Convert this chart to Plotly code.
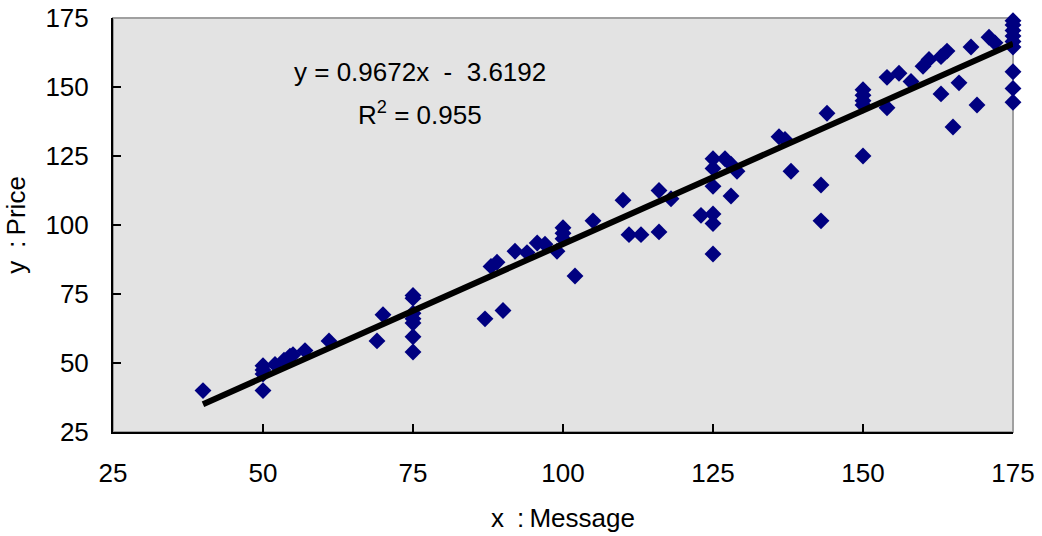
import plotly.graph_objects as go

# Data
message = [40,
           50, 50, 50, 50,
           52, 53.5, 54.5, 55, 57, 61,
           69, 70,
           75, 75, 75, 75, 75, 75, 75,
           87, 88, 89, 90, 92, 94, 95.7, 97, 99, 100, 100, 100, 102, 105, 110, 111, 113, 116, 116, 118,
           123, 125, 125, 125, 125, 125, 125, 127, 128, 128, 129,
           136, 137, 138, 143, 143, 144,
           150, 150, 150, 150, 150, 154, 154, 156, 158, 160, 161, 163, 163, 164, 165, 166, 168, 169, 171, 172,
           175, 175, 175, 175, 175, 175, 175, 175, 175]
price = [40,
         40, 46, 47.5, 49,
         49.5, 51, 52.5, 53, 54.5, 58,
         58, 67.5,
         54, 59.5, 64.5, 66, 68, 73.5, 74.5,
         66, 85, 86.5, 69, 90.5, 90, 93.5, 93, 90.5, 95, 97, 99, 81.5, 101.5, 109, 96.5, 96.5, 97.5, 112.5, 109.5,
         103.5, 89.5, 100.5, 104, 114, 120.5, 124, 124, 110.5, 122, 119.5,
         132, 131, 119.5, 114.5, 101.5, 140.5,
         125, 143.5, 145, 147, 149, 142.5, 153.5, 155, 152, 157.5, 160, 147.5, 161, 163, 135.5, 151.5, 164.5, 143.5, 168, 166,
         144.5, 149.5, 155.5, 164.5, 166.5, 168.5, 170.5, 172.5, 174]

slope = 0.9672
intercept = -3.6192
r_squared = 0.955
trend_x = [min(message), max(message)]
trend_y = [slope * v + intercept for v in trend_x]

tick_vals = [25, 50, 75, 100, 125, 150, 175]

FONT = "Liberation Sans, Arial, sans-serif"

fig = go.Figure()
fig.add_trace(go.Scatter(
    x=message, y=price, mode="markers",
    marker=dict(symbol="diamond", size=13, color="#000080",
                line=dict(width=0)),
    cliponaxis=False, showlegend=False, hoverinfo="x+y"))
fig.add_trace(go.Scatter(
    x=trend_x, y=trend_y, mode="lines",
    line=dict(color="black", width=6),
    showlegend=False, hoverinfo="skip"))

fig.add_shape(type="rect", xref="paper", yref="paper", x0=0, y0=0, x1=1, y1=1,
              line=dict(color="#a0a0a0", width=2), layer="below")

fig.add_annotation(x=76.1, y=155.4, xref="x", yref="y", showarrow=False,
                   text="y = 0.9672x \u00a0-\u00a0 3.6192",
                   font=dict(family=FONT, size=26, color="black"))
fig.add_annotation(x=76.1, y=140.4, xref="x", yref="y", showarrow=False,
                   text="R<sup>2</sup> = 0.955",
                   font=dict(family=FONT, size=26, color="black"))

fig.update_layout(
    width=1042, height=536,
    margin=dict(l=113, r=29, t=18, b=104, autoexpand=False),
    paper_bgcolor="white", plot_bgcolor="#e3e3e3",
    font=dict(family=FONT, size=25, color="black"),
    xaxis=dict(range=[25, 175], tickvals=tick_vals, showgrid=False, zeroline=False,
               automargin=False,
               showline=True, linecolor="black", linewidth=2,
               ticks="inside", ticklen=8, tickwidth=2, tickcolor="black",
               ticklabelstandoff=17,
               tickfont=dict(size=26),
               title=dict(text="x\u2002:\u2009Message", font=dict(size=26), standoff=22)),
    yaxis=dict(range=[25, 175], tickvals=tick_vals, showgrid=False, zeroline=False,
               automargin=False,
               showline=True, linecolor="black", linewidth=2,
               ticks="inside", ticklen=8, tickwidth=2, tickcolor="black",
               ticklabelstandoff=17,
               tickfont=dict(size=26),
               title=dict(text="y\u2002:\u2009Price", font=dict(size=26), standoff=12)),
)

fig.write_html("out.html",
               config={"displayModeBar": False},
               post_script="document.body.style.margin='0';document.body.style.overflow='hidden';")
